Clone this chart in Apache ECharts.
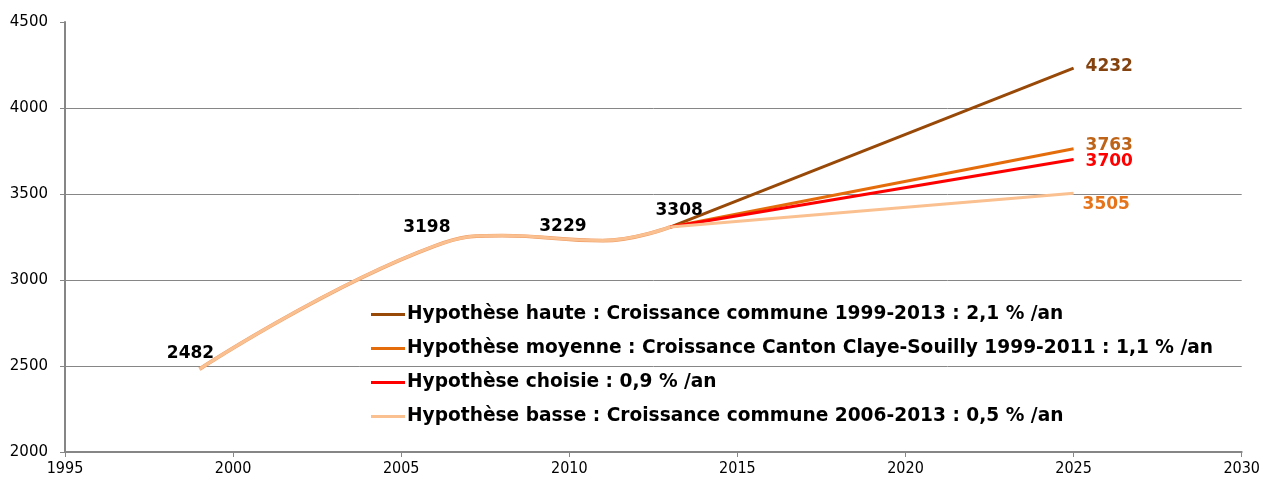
<!DOCTYPE html>
<html>
<head>
<meta charset="utf-8">
<script src="https://cdn.jsdelivr.net/npm/echarts@6/dist/echarts.min.js"></script>
<style>
  html, body { margin: 0; padding: 0; background: #fff; }
  #chart { width: 1263px; height: 484px; }
</style>
</head>
<body>
<div id="chart"></div>
<script>
// Observed population (the 2008 value is unlabelled)
const histYears = [1999, 2006, 2008, 2011, 2013];
const histValues = [2482, 3198, 3258, 3229, 3308];
const histLabelled = [true, true, false, true, true];

// Projections from 2013 to 2025
const projYear = 2025;
const seriesNames = [
  'Hypothèse haute : Croissance commune 1999-2013 : 2,1 % /an',
  'Hypothèse moyenne : Croissance Canton Claye-Souilly 1999-2011 : 1,1 % /an',
  'Hypothèse choisie : 0,9 % /an',
  'Hypothèse basse : Croissance commune 2006-2013 : 0,5 % /an'
];
const projValues = [4232, 3763, 3700, 3505];

const lineColors = ['#984807', '#E46C0A', '#FF0000', '#FAC090'];
const endLabelColors = ['#84420F', '#BE6418', '#FF0000', '#E5741A'];

const xTicks = { min: 1995, max: 2030, interval: 5 };
const yTicks = { min: 2000, max: 4500, interval: 500 };

const LABEL_FONT = '"DejaVu Sans", sans-serif';
const AXIS_FONT = '"DejaVu Sans Condensed", "DejaVu Sans", sans-serif';

// label nudges (pixels) relative to each point
const histLabelOffsets = [[-9, -2], [-8, -5], [0, 0], [-40, -1], [9, -3]];
const endLabelOffsets = [[7, -2], [7, -3], [7, 2], [4, 11]];

const lastIdx = histYears.length - 1;
const SMOOTH = 0.45;

const histData = histYears.map((yr, i) => {
  const item = { value: [yr, histValues[i]] };
  if (histLabelled[i]) {
    item.label = {
      show: true, position: 'top', offset: histLabelOffsets[i],
      color: '#000', fontWeight: 'bold', fontSize: 17, fontFamily: LABEL_FONT
    };
  }
  return item;
});

// smoothed observed curve: a thin orange edge under the peach line
const series = [
  {
    name: 'edge', type: 'line', smooth: SMOOTH, symbol: 'none',
    data: histYears.map((yr, i) => [yr, histValues[i]]),
    lineStyle: { color: '#EE9A62', width: 3.8 }, z: 1, silent: true
  }
];

seriesNames.forEach((name, s) => {
  series.push({
    name, type: 'line', smooth: false,
    symbol: 'circle', symbolSize: 0, showSymbol: true,
    data: [
      { value: [histYears[lastIdx], histValues[lastIdx]] },
      {
        value: [projYear, projValues[s]],
        label: {
          show: true, position: 'right', offset: endLabelOffsets[s],
          color: endLabelColors[s], fontWeight: 'bold', fontSize: 17, fontFamily: LABEL_FONT
        }
      }
    ],
    lineStyle: { color: lineColors[s], width: 3 },
    itemStyle: { color: lineColors[s] },
    z: 2 + s
  });
});

series.push({
  name: 'observed', type: 'line', smooth: SMOOTH,
  symbol: 'circle', symbolSize: 0, showSymbol: true,
  data: histData,
  lineStyle: { color: lineColors[3], width: 3 },
  itemStyle: { color: lineColors[3] },
  z: 10
});

const gridColor = '#868686';
const splitColors = [gridColor, gridColor, gridColor, gridColor, gridColor, 'rgba(0,0,0,0)'];

const chart = echarts.init(document.getElementById('chart'));
chart.setOption({
  animation: false,
  backgroundColor: '#fff',
  grid: { left: 65, right: 18, top: 22, bottom: 32 },
  legend: {
    orient: 'vertical',
    left: 366, top: 299,
    itemWidth: 34, itemHeight: 3, itemGap: 13,
    icon: 'rect',
    textStyle: {
      fontFamily: LABEL_FONT, fontWeight: 'bold', fontSize: 18.6, lineHeight: 21,
      color: '#000', padding: [0, 0, 0, -3]
    },
    data: seriesNames.map((n, s) => ({ name: n, itemStyle: { color: lineColors[s] } }))
  },
  xAxis: {
    type: 'value', min: xTicks.min, max: xTicks.max, interval: xTicks.interval,
    axisLine: { show: true, lineStyle: { color: gridColor, width: 2 } },
    axisTick: { show: true, length: 5, lineStyle: { color: gridColor } },
    axisLabel: { color: '#000', fontFamily: AXIS_FONT, fontSize: 16, margin: 9, formatter: v => String(v) },
    splitLine: { show: false }
  },
  yAxis: {
    type: 'value', min: yTicks.min, max: yTicks.max, interval: yTicks.interval,
    axisLine: { show: true, lineStyle: { color: gridColor, width: 2 } },
    axisTick: { show: true, length: 5, lineStyle: { color: gridColor } },
    axisLabel: { color: '#000', fontFamily: LABEL_FONT, fontSize: 15, margin: 17, formatter: v => String(v) },
    splitLine: { show: true, lineStyle: { color: splitColors, width: 1 } }
  },
  series
});
</script>
</body>
</html>
